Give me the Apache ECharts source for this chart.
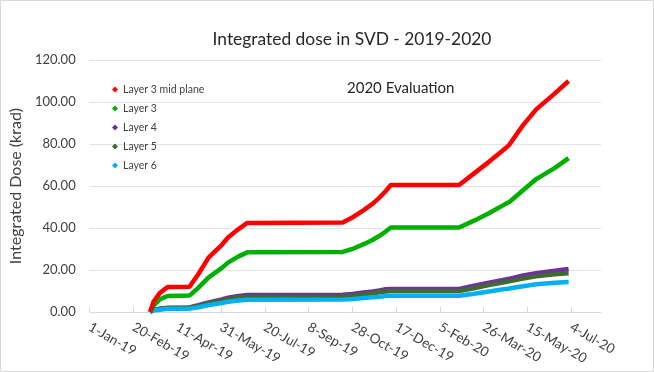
<!DOCTYPE html>
<html>
<head>
<meta charset="utf-8">
<script src="https://cdn.jsdelivr.net/npm/echarts@6/dist/echarts.min.js"></script>
<style>
  html, body { margin: 0; padding: 0; background: #fff; }
  #chart { width: 654px; height: 372px; }
</style>
</head>
<body>
<div id="chart"></div>
<script>
// x axis: days counted from 1-Jan-19, one label every 50 days
var axisStart = '2019-01-01';
var tickLabels = ['1-Jan-19', '20-Feb-19', '11-Apr-19', '31-May-19', '20-Jul-19', '8-Sep-19',
  '28-Oct-19', '17-Dec-19', '5-Feb-20', '26-Mar-20', '15-May-20', '4-Jul-20'];

// sample dates
var dates = ['2019-03-11', '2019-03-15', '2019-03-22', '2019-03-31', '2019-04-25', '2019-05-05',
  '2019-05-17', '2019-06-01', '2019-06-08', '2019-06-20', '2019-06-30', '2019-10-17',
  '2019-10-28', '2019-11-10', '2019-11-20', '2019-11-28', '2019-12-05', '2019-12-11',
  '2020-02-27', '2020-03-15', '2020-04-01', '2020-04-20', '2020-04-24', '2020-05-10',
  '2020-05-25', '2020-06-15', '2020-07-01'];

var layer3mid = [0, 5, 9, 11.9, 12, 18, 26, 32, 35.5, 39.5, 42.4, 42.6,
  45, 48.5, 51.5, 54.5, 57.5, 60.5, 60.5, 66, 71.5, 78, 79.5, 89, 96.5, 104, 110];
var layer3 = [0, 3, 6, 7.6, 7.8, 11.5, 16.5, 21, 23.5, 26.5, 28.4, 28.6,
  30, 32.3, 34.3, 36.3, 38.3, 40.2, 40.2, 43.5, 47, 51.5, 52.3, 58, 63.3, 68.5, 73.3];
var layer4 = [0, 1.0, 1.6, 2.0, 2.2, 3.2, 4.6, 6.0, 6.8, 7.6, 8.1, 8.2,
  8.6, 9.3, 9.8, 10.3, 10.8, 11.0, 11.0, 12.5, 14.0, 15.5, 15.8, 17.4, 18.5, 19.6, 20.5];
var layer5 = [0, 0.9, 1.4, 1.8, 2.0, 2.9, 4.2, 5.4, 6.1, 6.9, 7.3, 7.4,
  7.8, 8.5, 8.9, 9.4, 9.8, 10.0, 10.0, 11.3, 12.8, 14.3, 14.6, 15.9, 17.0, 18.0, 18.5];
var layer6 = [0, 0.7, 1.1, 1.5, 1.6, 2.3, 3.3, 4.3, 4.9, 5.5, 5.8, 5.9,
  6.2, 6.7, 7.0, 7.3, 7.6, 7.7, 7.7, 8.7, 9.8, 11.0, 11.2, 12.3, 13.2, 13.9, 14.3];

var DAY = 24 * 3600 * 1000;
function dayOf(s) {
  return Math.round((Date.parse(s + 'T00:00:00Z') - Date.parse(axisStart + 'T00:00:00Z')) / DAY);
}
function pairs(vals) {
  return dates.map(function (d, i) { return [dayOf(d), vals[i]]; });
}

var tickDays = tickLabels.map(function (t, i) { return i * 50; });
var font = 'Lato, "Open Sans", sans-serif';

var myChart = echarts.init(document.getElementById('chart'));

function line(name, color, vals) {
  return {
    name: name,
    type: 'line',
    symbol: 'none',
    showSymbol: false,
    itemStyle: { color: color },
    lineStyle: { width: 4.5, color: color },
    data: pairs(vals)
  };
}

var option = {
  animation: false,
  textStyle: { fontFamily: font },
  title: {
    text: 'Integrated dose in SVD - 2019-2020',
    left: 347,
    textAlign: 'center',
    top: 26,
    textStyle: { fontFamily: font, fontSize: 17.4, fontWeight: 'normal', color: '#262626' }
  },
  graphic: [
    {
      type: 'rect',
      shape: { x: 0.5, y: 0.5, width: 653, height: 371 },
      style: { fill: 'none', stroke: '#d9d9d9', lineWidth: 1 },
      silent: true
    },
    {
      type: 'text',
      left: 347,
      top: 81,
      style: { text: '2020 Evaluation', font: '15px ' + font, fill: '#262626' }
    }
  ],
  legend: {
    orient: 'vertical',
    left: 107,
    top: 79,
    itemGap: 8,
    itemWidth: 6,
    itemHeight: 6,
    icon: 'diamond',
    textStyle: { fontFamily: font, fontSize: 10.5, color: '#404040' },
    data: ['Layer 3 mid plane', 'Layer 3', 'Layer 4', 'Layer 5', 'Layer 6']
  },
  grid: { left: 87, right: 53, top: 60, bottom: 60 },
  xAxis: {
    type: 'value',
    min: 0,
    max: 584,
    interval: 50,
    axisLine: { show: true, lineStyle: { color: '#d9d9d9' } },
    axisTick: { show: true, inside: true, length: 5, lineStyle: { color: '#d9d9d9' }, customValues: tickDays },
    splitLine: { show: false },
    axisLabel: {
      customValues: tickDays,
      rotate: -30,
      margin: 14,
      fontFamily: font,
      fontSize: 13.5,
      color: '#404040',
      formatter: function (v) {
        var i = Math.round(v / 50);
        return tickLabels[i] || '';
      }
    }
  },
  yAxis: {
    type: 'value',
    min: 0,
    max: 120,
    interval: 20,
    name: 'Integrated Dose (krad)',
    nameLocation: 'middle',
    nameGap: 56,
    nameTextStyle: { fontFamily: font, fontSize: 16, color: '#404040' },
    axisLine: { show: false },
    axisTick: { show: false },
    splitLine: { lineStyle: { color: '#e3e3e3' } },
    axisLabel: {
      fontFamily: font,
      fontSize: 13,
      color: '#404040',
      margin: 14,
      formatter: function (v) { return v.toFixed(2); }
    }
  },
  // purple drawn first so the dark green sits on it
  series: [
    line('Layer 4', '#7030a0', layer4),
    line('Layer 5', '#3f6b30', layer5),
    line('Layer 6', '#00b0f0', layer6),
    line('Layer 3', '#00b000', layer3),
    line('Layer 3 mid plane', '#ff0000', layer3mid)
  ]
};

myChart.setOption(option);
</script>
</body>
</html>
